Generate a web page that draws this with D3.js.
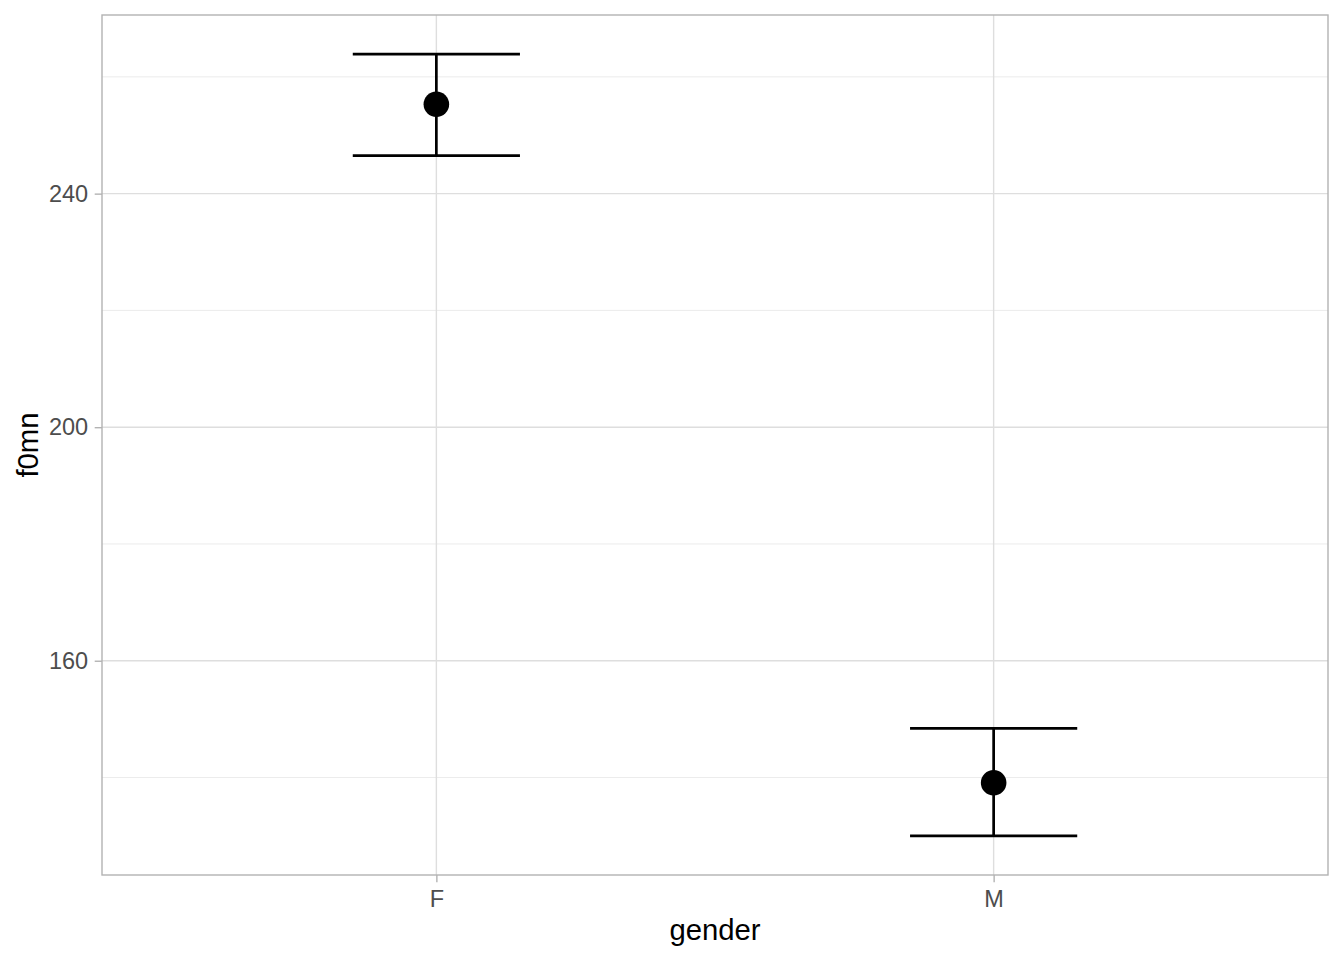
<!DOCTYPE html>
<html>
<head>
<meta charset="utf-8">
<script src="https://cdn.jsdelivr.net/npm/d3@7"></script>
<style>
  html, body { margin: 0; padding: 0; background: #ffffff; }
  svg { display: block; }
  text { font-family: "Liberation Sans", Arial, Helvetica, sans-serif; }
</style>
</head>
<body>
<svg id="chart" width="1344" height="960"></svg>
<script>
// ---- data ----
const categories = ["F", "M"];
const means = [255.3, 139.1];
const lower = [246.5, 130.0];
const upper = [263.9, 148.4];
const yTicks = [160, 200, 240];
const yMinorTicks = [140, 180, 220, 260];
const xTitle = "gender";
const yTitle = "f0mn";

// ---- layout ----
const W = 1344, H = 960;
const margin = { top: 15, right: 16, bottom: 85, left: 102 };
const pw = W - margin.left - margin.right;
const ph = H - margin.top - margin.bottom;

const svg = d3.select("#chart");
svg.append("rect").attr("width", W).attr("height", H).attr("fill", "#ffffff");

const lo = d3.min(lower), hi = d3.max(upper);
const pad = (hi - lo) * 0.05;
const y = d3.scaleLinear().domain([lo - pad, hi + pad]).range([ph, 0]);
const x = d3.scalePoint().domain(categories).range([0, pw]).padding(0.6);
const step = x.step();

const g = svg.append("g").attr("transform", `translate(${margin.left},${margin.top})`);

// minor grid
g.selectAll("line.minor").data(yMinorTicks).join("line")
  .attr("class", "minor")
  .attr("x1", 0).attr("x2", pw)
  .attr("y1", d => y(d)).attr("y2", d => y(d))
  .attr("stroke", "#e6e6e6").attr("stroke-width", 0.8);

// major grid (y)
g.selectAll("line.majory").data(yTicks).join("line")
  .attr("class", "majory")
  .attr("x1", 0).attr("x2", pw)
  .attr("y1", d => y(d)).attr("y2", d => y(d))
  .attr("stroke", "#dedede").attr("stroke-width", 1.4);

// major grid (x)
g.selectAll("line.majorx").data(categories).join("line")
  .attr("class", "majorx")
  .attr("y1", 0).attr("y2", ph)
  .attr("x1", d => x(d)).attr("x2", d => x(d))
  .attr("stroke", "#dedede").attr("stroke-width", 1.4);

// error bars
const rows = categories.map((c, i) => ({ c, m: means[i], lo: lower[i], hi: upper[i] }));
const eb = g.selectAll("g.eb").data(rows).join("g").attr("class", "eb");
const hw = step * 0.15;
eb.append("line")
  .attr("x1", d => x(d.c)).attr("x2", d => x(d.c))
  .attr("y1", d => y(d.lo)).attr("y2", d => y(d.hi))
  .attr("stroke", "#000").attr("stroke-width", 2.7);
eb.append("line")
  .attr("x1", d => x(d.c) - hw).attr("x2", d => x(d.c) + hw)
  .attr("y1", d => y(d.hi)).attr("y2", d => y(d.hi))
  .attr("stroke", "#000").attr("stroke-width", 2.7);
eb.append("line")
  .attr("x1", d => x(d.c) - hw).attr("x2", d => x(d.c) + hw)
  .attr("y1", d => y(d.lo)).attr("y2", d => y(d.lo))
  .attr("stroke", "#000").attr("stroke-width", 2.7);
eb.append("circle")
  .attr("cx", d => x(d.c)).attr("cy", d => y(d.m))
  .attr("r", 12.8).attr("fill", "#000");

// panel border
g.append("rect").attr("x", 0).attr("y", 0).attr("width", pw).attr("height", ph)
  .attr("fill", "none").attr("stroke", "#b3b3b3").attr("stroke-width", 1.4);

// y axis
const yAxis = g.append("g").call(d3.axisLeft(y).tickValues(yTicks).tickSize(7.3).tickPadding(6.5));
yAxis.select(".domain").remove();
yAxis.selectAll(".tick line").attr("stroke", "#b3b3b3").attr("stroke-width", 1.4);
yAxis.selectAll(".tick text").attr("fill", "#4d4d4d").style("font-size", "23.5px")
  .style("font-family", "'Liberation Sans', Arial, sans-serif");

// x axis
const xAxis = g.append("g").attr("transform", `translate(0,${ph})`)
  .call(d3.axisBottom(x).tickSize(7.3).tickPadding(8));
xAxis.select(".domain").remove();
xAxis.selectAll(".tick line").attr("stroke", "#b3b3b3").attr("stroke-width", 1.4);
xAxis.selectAll(".tick text").attr("fill", "#4d4d4d").style("font-size", "23.5px")
  .style("font-family", "'Liberation Sans', Arial, sans-serif");

// titles
svg.append("text").attr("x", margin.left + pw / 2).attr("y", 940)
  .attr("text-anchor", "middle").attr("fill", "#000").style("font-size", "29.3px")
  .text(xTitle);
svg.append("text").attr("transform", `translate(38,${margin.top + ph / 2}) rotate(-90)`)
  .attr("text-anchor", "middle").attr("fill", "#000").style("font-size", "29.3px")
  .text(yTitle);
</script>
</body>
</html>
